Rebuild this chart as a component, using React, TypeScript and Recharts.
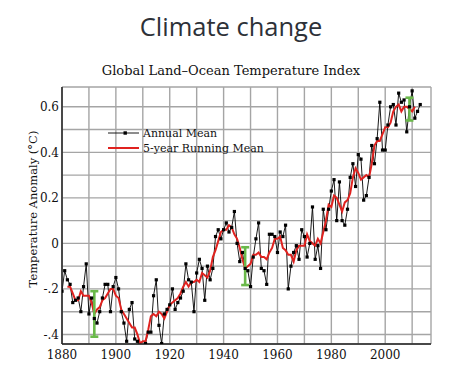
import React from 'react';
import { ComposedChart, Line, Scatter, ErrorBar, XAxis, YAxis, CartesianGrid, ReferenceArea } from 'recharts';

const years: number[] = [];
for (let y = 1880; y <= 2013; y++) years.push(y);

const annualMean: number[] = [
  -0.21, -0.12, -0.16, -0.18, -0.26, -0.25, -0.24, -0.30, -0.19, -0.09,
  -0.31, -0.24, -0.33, -0.35, -0.30, -0.24, -0.18, -0.18, -0.30, -0.19,
  -0.15, -0.20, -0.30, -0.35, -0.43, -0.29, -0.26, -0.42, -0.43, -0.46,
  -0.45, -0.44, -0.39, -0.39, -0.23, -0.16, -0.36, -0.44, -0.31, -0.29,
  -0.27, -0.20, -0.29, -0.26, -0.24, -0.21, -0.09, -0.16, -0.17, -0.30,
  -0.13, -0.07, -0.11, -0.25, -0.10, -0.16, -0.11, 0.03, 0.06, 0.02,
  0.06, 0.09, 0.05, 0.07, 0.14, 0.00, -0.08, -0.04, -0.11, -0.12,
  -0.19, -0.06, 0.02, 0.09, -0.11, -0.12, -0.18, 0.04, 0.04, 0.03,
  -0.04, 0.05, 0.03, 0.08, -0.20, -0.10, -0.04, -0.01, -0.07, 0.06,
  0.03, -0.06, 0.00, 0.16, -0.07, -0.01, -0.11, 0.15, 0.06, 0.15,
  0.23, 0.28, 0.10, 0.27, 0.10, 0.08, 0.15, 0.29, 0.35, 0.25,
  0.39, 0.37, 0.19, 0.21, 0.29, 0.43, 0.35, 0.46, 0.62, 0.41,
  0.41, 0.52, 0.60, 0.61, 0.52, 0.66, 0.62, 0.63, 0.49, 0.60,
  0.67, 0.55, 0.58, 0.61,
];

// 5-year running mean, 1882..2011
const runningYears: number[] = [];
for (let y = 1882; y <= 2011; y++) runningYears.push(y);
const runningMean: number[] = [
  -0.19, -0.19, -0.22, -0.25, -0.25, -0.21, -0.23, -0.23,
  -0.23, -0.26, -0.31, -0.29, -0.28, -0.25, -0.24, -0.22, -0.20, -0.20,
  -0.23, -0.24, -0.29, -0.31, -0.33, -0.35, -0.37, -0.37, -0.40, -0.44,
  -0.43, -0.43, -0.38, -0.32, -0.31, -0.32, -0.30, -0.31, -0.33, -0.30,
  -0.27, -0.26, -0.25, -0.24, -0.22, -0.19, -0.17, -0.19, -0.17, -0.17,
  -0.16, -0.17, -0.13, -0.14, -0.15, -0.12, -0.06, -0.03, 0.01, 0.05,
  0.06, 0.06, 0.08, 0.07, 0.04, 0.02, -0.02, -0.07, -0.11, -0.10,
  -0.09, -0.05, -0.05, -0.04, -0.06, -0.06, -0.07, -0.04, -0.02, 0.02,
  0.02, 0.03, -0.02, -0.03, -0.05, -0.05, -0.08, -0.03, -0.01, -0.01,
  -0.01, 0.04, 0.01, 0.00, -0.01, 0.02, 0.00, 0.05, 0.10, 0.17,
  0.16, 0.21, 0.20, 0.17, 0.14, 0.18, 0.19, 0.22, 0.29, 0.33,
  0.31, 0.28, 0.29, 0.30, 0.29, 0.35, 0.43, 0.45, 0.45, 0.48,
  0.51, 0.51, 0.53, 0.58, 0.60, 0.61, 0.58, 0.60, 0.60, 0.59,
  0.58, 0.60,
];

// uncertainty bars
const errYears: number[] = [1892, 1948, 2009];
const errCenters: number[] = [-0.31, -0.10, 0.59];
const errHalf: number[] = [0.10, 0.083, 0.05];

const xTicks: number[] = [1880, 1890, 1900, 1910, 1920, 1930, 1940, 1950, 1960, 1970, 1980, 1990, 2000, 2010];
const xLabels: Record<number, string> = { 1880: '1880', 1900: '1900', 1920: '1920', 1940: '1940', 1960: '1960', 1980: '1980', 2000: '2000' };
const yTicks: number[] = [-0.4, -0.3, -0.2, -0.1, 0, 0.1, 0.2, 0.3, 0.4, 0.5, 0.6];
const yLabels: Record<string, string> = { '-0.4': '-.4', '-0.2': '-.2', '0': '0', '0.2': '0.2', '0.4': '0.4', '0.6': '0.6' };

const annualData = years.map((year, i) => ({ year, v: annualMean[i] }));
const runningData = runningYears.map((year, i) => ({ year, r: runningMean[i] }));
const errData = errYears.map((year, i) => ({ year, c: errCenters[i], e: errHalf[i] }));

const SERIF = '"DejaVu Serif", serif';

const SquareDot = (props: any) => {
  const { cx, cy, index } = props;
  if (cx == null || cy == null) return <g key={`d${index}`} />;
  return <rect key={`d${index}`} x={cx - 1.6} y={cy - 1.6} width={3.2} height={3.2} fill="#000" />;
};

export default function App() {
  return (
    <div style={{ position: 'absolute', left: 0, top: 0, width: 467, height: 387, background: '#fff' }}>
      <div style={{ position: 'absolute', left: 0, top: 8, width: 462, textAlign: 'center', fontFamily: '"Open Sans", sans-serif', fontSize: 25.5, color: '#2d3138', lineHeight: '36px' }}>
        Climate change
      </div>
      <div style={{ position: 'absolute', left: 0, top: 63, width: 462, textAlign: 'center', fontFamily: SERIF, fontSize: 13, color: '#111', lineHeight: '16px' }}>
        Global Land–Ocean Temperature Index
      </div>
      <div style={{ position: 'absolute', left: 33 - 100, top: 209 - 8, width: 200, height: 16, textAlign: 'center', fontFamily: SERIF, fontSize: 11.5, color: '#111', lineHeight: '16px', transform: 'rotate(-90deg)' }}>
        Temperature Anomaly (°C)
      </div>
      <ComposedChart width={467} height={387} margin={{ top: 87, right: 36, bottom: 18, left: 22 }} style={{ position: 'absolute', left: 0, top: 0 }}>
        <CartesianGrid stroke="#a5a5a5" strokeWidth={1.4} />
        <XAxis
          dataKey="year"
          type="number"
          domain={[1880, 2017]}
          ticks={xTicks}
          tickFormatter={(t: number) => xLabels[t] ?? ''}
          allowDataOverflow
          height={25}
          tickLine={false}
          tickSize={0}
          tickMargin={6}
          axisLine={{ stroke: '#222', strokeWidth: 1.5 }}
          tick={{ fontFamily: SERIF, fontSize: 12, fill: '#111' }}
        />
        <YAxis
          type="number"
          domain={[-0.442, 0.687]}
          ticks={yTicks}
          tickFormatter={(t: number) => yLabels[String(Math.round(t * 10) / 10)] ?? ''}
          allowDataOverflow
          width={40}
          tickLine={false}
          tickSize={0}
          tickMargin={3}
          axisLine={{ stroke: '#222', strokeWidth: 1.5 }}
          tick={{ fontFamily: SERIF, fontSize: 12, fill: '#111' }}
        />
        <ReferenceArea fill="none" stroke="#222" strokeWidth={1.5} ifOverflow="visible" />
        <Line data={annualData} dataKey="v" stroke="#000" strokeWidth={0.9} dot={SquareDot} isAnimationActive={false} legendType="none" />
        <Line data={runningData} dataKey="r" stroke="#e0221f" strokeWidth={2} dot={false} isAnimationActive={false} legendType="none" />
        <Scatter data={errData} dataKey="c" shape={() => <g />} isAnimationActive={false} legendType="none">
          <ErrorBar dataKey="e" direction="y" width={4} stroke="#6ab94a" strokeWidth={2.6} isAnimationActive={false} />
        </Scatter>
      </ComposedChart>
      <svg width={180} height={30} style={{ position: 'absolute', left: 108, top: 127, overflow: 'visible' }}>
        <line x1={0} y1={6} x2={31} y2={6} stroke="#000" strokeWidth={0.9} />
        <rect x={15.5} y={4.3} width={3.4} height={3.4} fill="#000" />
        <text x={35} y={10} fontFamily={SERIF} fontSize={11} fill="#111">Annual Mean</text>
        <line x1={0} y1={21} x2={31} y2={21} stroke="#e0221f" strokeWidth={2} />
        <text x={35} y={25} fontFamily={SERIF} fontSize={11} fill="#111">5-year Running Mean</text>
      </svg>
    </div>
  );
}
